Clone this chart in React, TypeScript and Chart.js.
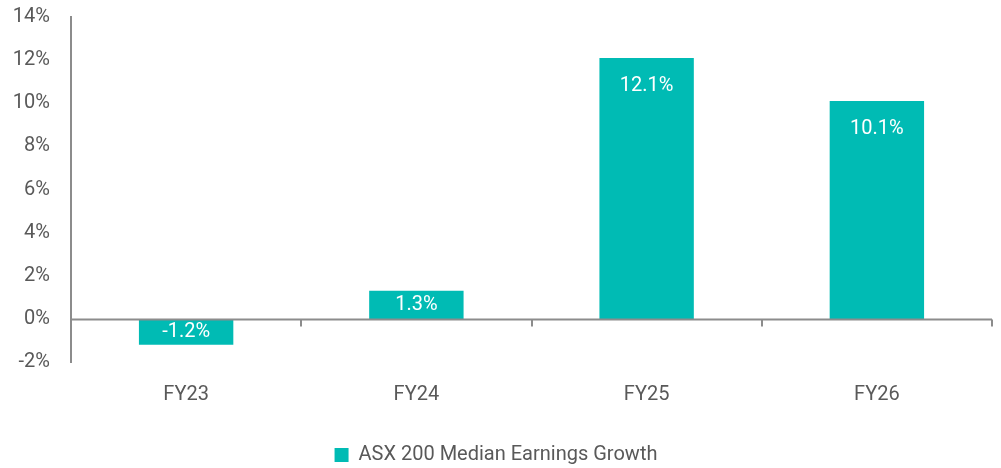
import React, { useEffect, useRef } from "react";
import { Chart, registerables } from "chart.js";

Chart.register(...registerables);

const categories = ["FY23", "FY24", "FY25", "FY26"];
const earningsGrowth = [-1.2, 1.3, 12.1, 10.1];
const seriesLabel = "ASX 200 Median Earnings Growth";
const yMin = -2;
const yMax = 14;
const yStep = 2;

const TEAL = "#00BBB4";
const AXIS = "#8c8c8c";
const TEXT = "#595959";
const FONT = "Roboto";

const zeroLinePlugin = {
  id: "zeroLine",
  afterDatasetsDraw(chart: any) {
    const { ctx, chartArea, scales } = chart;
    const x = scales.x;
    const y = scales.y;
    const y0 = Math.round(y.getPixelForValue(0)) + 0.5;
    const step = x.getPixelForValue(1) - x.getPixelForValue(0);
    ctx.save();
    ctx.strokeStyle = AXIS;
    ctx.lineWidth = 2;
    ctx.beginPath();
    ctx.moveTo(chartArea.left, y0);
    ctx.lineTo(chartArea.right, y0);
    const n = chart.data.labels.length;
    for (let i = 1; i <= n; i++) {
      const px = Math.round(x.getPixelForValue(i - 1) + step / 2);
      ctx.moveTo(px, y0);
      ctx.lineTo(px, y0 + 7);
    }
    ctx.stroke();
    const meta = chart.getDatasetMeta(0);
    ctx.fillStyle = "#ffffff";
    ctx.font = `20px ${FONT}`;
    ctx.textAlign = "center";
    ctx.textBaseline = "middle";
    meta.data.forEach((bar: any, i: number) => {
      const v = chart.data.datasets[0].data[i] as number;
      const top = Math.min(bar.y, bar.base);
      const h = Math.abs(bar.base - bar.y);
      const cy = top + Math.min(28, h / 2);
      ctx.fillText(v.toFixed(1) + "%", bar.x, cy);
    });
    ctx.restore();
  },
};

export default function App() {
  const ref = useRef<HTMLCanvasElement | null>(null);
  useEffect(() => {
    if (!ref.current) return;
    const chart = new Chart(ref.current, {
      type: "bar",
      data: {
        labels: categories,
        datasets: [
          {
            label: seriesLabel,
            data: earningsGrowth,
            backgroundColor: TEAL,
            borderWidth: 0,
            barPercentage: 0.41,
            categoryPercentage: 1,
          },
        ],
      },
      options: {
        responsive: false,
        animation: false,
        maintainAspectRatio: false,
        layout: { padding: { top: 17, right: 9, left: 0, bottom: -7 } },
        plugins: {
          tooltip: { enabled: false },
          legend: {
            position: "bottom",
            labels: {
              boxWidth: 14,
              boxHeight: 14,
              color: TEXT,
              font: { family: FONT, size: 20 },
              padding: 0,
            },
          },
        },
        scales: {
          x: {
            grid: { display: false },
            border: { display: false },
            ticks: {
              color: TEXT,
              font: { family: FONT, size: 20 },
              padding: 13,
            },
            afterFit(scale: any) {
              scale.height = 83;
            },
          },
          y: {
            min: yMin,
            max: yMax,
            grid: { display: false, drawTicks: false },
            border: { display: true, color: AXIS, width: 2 },
            ticks: {
              stepSize: yStep,
              color: TEXT,
              font: { family: FONT, size: 20 },
              padding: 21,
              callback: (v: any) => `${v}%`,
            },
            afterFit(scale: any) {
              scale.width = 71;
              scale.paddingTop = 0;
              scale.paddingBottom = 0;
            },
          },
        },
      },
      plugins: [zeroLinePlugin],
    });
    return () => chart.destroy();
  }, []);
  return (
    <div style={{ position: "fixed", left: 0, top: 0, width: 1001, height: 468 }}>
      <canvas ref={ref} width={1001} height={468} />
    </div>
  );
}
